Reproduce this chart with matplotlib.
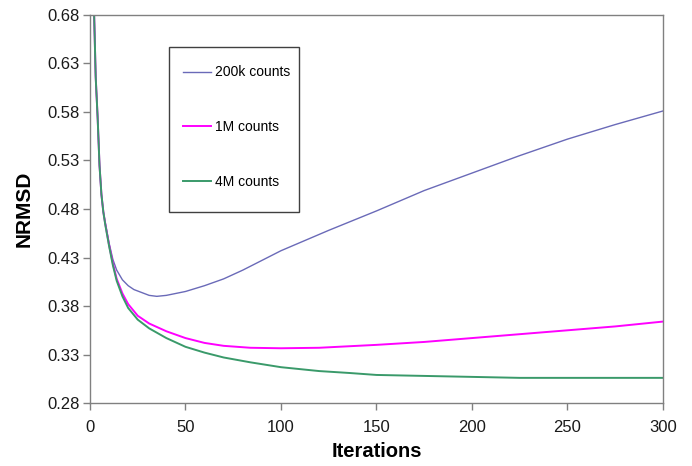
import matplotlib
matplotlib.use("Agg")
import matplotlib.pyplot as plt
from matplotlib.patches import Rectangle

# ---------------------------------------------------------------------------
# Data
# ---------------------------------------------------------------------------
iters_200k = [1, 2, 3, 4, 5, 6, 7, 8, 10, 12, 14, 17, 20, 23, 27, 31, 35, 40,
              45, 50, 55, 60, 70, 80, 90, 100, 125, 150, 175, 200, 225, 250,
              275, 300]
nrmsd_200k = [0.75, 0.695, 0.616, 0.575, 0.525, 0.495, 0.477, 0.466, 0.445,
              0.428, 0.417, 0.407, 0.401, 0.397, 0.394, 0.391, 0.390, 0.391,
              0.393, 0.395, 0.398, 0.401, 0.408, 0.417, 0.427, 0.437, 0.458,
              0.478, 0.499, 0.517, 0.535, 0.552, 0.567, 0.581]

iters_1m = [1, 2, 3, 4, 5, 6, 7, 8, 10, 12, 14, 17, 20, 25, 31, 40, 50, 60,
            70, 84, 100, 120, 150, 175, 200, 225, 250, 275, 300]
nrmsd_1m = [0.75, 0.695, 0.616, 0.575, 0.525, 0.495, 0.477, 0.465, 0.443,
            0.424, 0.408, 0.393, 0.382, 0.370, 0.362, 0.354, 0.347, 0.342,
            0.339, 0.337, 0.3365, 0.337, 0.340, 0.343, 0.347, 0.351, 0.355,
            0.359, 0.364]

iters_4m = [1, 2, 3, 4, 5, 6, 7, 8, 10, 12, 14, 17, 20, 25, 31, 40, 50, 60,
            70, 84, 100, 120, 136, 150, 175, 200, 225, 250, 275, 300]
nrmsd_4m = [0.75, 0.695, 0.616, 0.575, 0.525, 0.495, 0.477, 0.464, 0.442,
            0.422, 0.406, 0.390, 0.378, 0.366, 0.357, 0.347, 0.338, 0.332,
            0.327, 0.322, 0.317, 0.313, 0.311, 0.309, 0.308, 0.307, 0.306,
            0.306, 0.306, 0.306]

x_ticks = [0, 50, 100, 150, 200, 250, 300]
y_ticks = [0.28, 0.33, 0.38, 0.43, 0.48, 0.53, 0.58, 0.63, 0.68]

plt.rcParams["font.family"] = ["Liberation Sans", "DejaVu Sans"]

fig = plt.figure(figsize=(6.92, 4.66), dpi=100)
ax = fig.add_axes([0.130, 0.135, 0.828, 0.833])

ax.plot(iters_200k, nrmsd_200k, color="#6a6ab8", linewidth=1.0, label="200k counts")
ax.plot(iters_1m, nrmsd_1m, color="#ff00ff", linewidth=1.4, label="1M counts")
ax.plot(iters_4m, nrmsd_4m, color="#3a9a6a", linewidth=1.4, label="4M counts")

ax.set_xlim(0, 300)
ax.set_ylim(0.28, 0.68)
ax.set_xticks(x_ticks)
ax.set_yticks(y_ticks)
ax.set_yticklabels([f"{v:.2f}" for v in y_ticks])

for s in ax.spines.values():
    s.set_color("#808080")
    s.set_linewidth(1.0)
ax.tick_params(direction="out", length=5, width=1.0, color="#808080",
               labelsize=12, labelcolor="#1a1a1a")
ax.tick_params(axis="x", pad=7)
ax.tick_params(axis="y", pad=2.5)

ax.set_xlabel("Iterations", fontsize=14.5, fontweight="bold", labelpad=5)
ax.set_ylabel("NRMSD", fontsize=15, fontweight="bold", labelpad=10)

# legend: entries without frame, plus a plain box drawn around them
leg = ax.legend(loc="upper left", bbox_to_anchor=(0.162, 0.870),
                fontsize=10, frameon=False, borderpad=0.0,
                labelspacing=2.95, handlelength=2.0, handletextpad=0.3,
                borderaxespad=0.0)
ax.add_patch(Rectangle((0.138, 0.492), 0.227, 0.426, transform=ax.transAxes,
                       fill=False, edgecolor="#404040", linewidth=1.0,
                       zorder=5))

fig.savefig("out.png", dpi=100)
